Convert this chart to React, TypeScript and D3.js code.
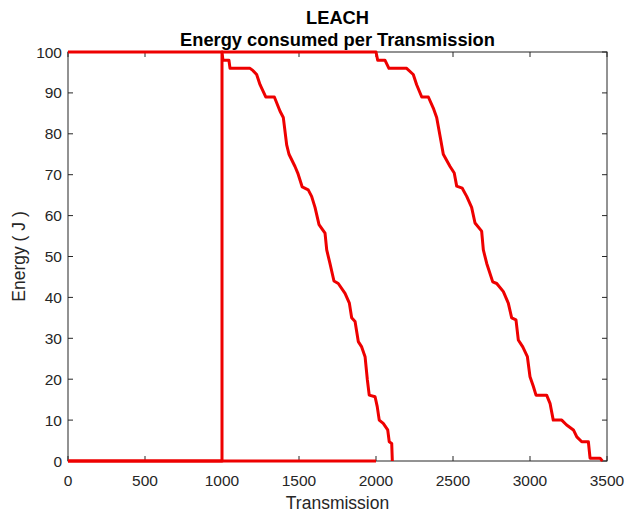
import React, { useRef, useEffect } from 'react';
import * as d3 from 'd3';

// early curve: flat at 0 until 1000, jumps to 100 and drains by ~2100
const earlyX = [0, 1000, 1000, 1006, 1045, 1052, 1182, 1200, 1225, 1247, 1284, 1340, 1377, 1398, 1420, 1435, 1474, 1492, 1521, 1560, 1582, 1604, 1630, 1669, 1680, 1701, 1727, 1755, 1799, 1827, 1842, 1864, 1885, 1907, 1929, 1944, 1956, 1994, 2008, 2021, 2047, 2076, 2086, 2102, 2106];
const earlyE = [0, 0, 100, 98, 98, 96, 96, 95.5, 94.5, 92, 89, 89, 85.5, 84, 77.3, 75, 72, 70.4, 67, 66.3, 64.7, 62, 57.8, 55.7, 51.6, 48.3, 44, 43.4, 41, 38.6, 35, 34.1, 29.2, 27.9, 25.5, 19.8, 16.1, 15.7, 13.3, 10, 9.2, 7.6, 4.7, 4.3, 0];

// late curve: full until 2000, drains by ~3470
const lateX = [0, 2000, 2011, 2058, 2084, 2199, 2242, 2264, 2297, 2340, 2372, 2394, 2422, 2437, 2481, 2508, 2524, 2560, 2589, 2621, 2643, 2686, 2697, 2719, 2758, 2784, 2827, 2859, 2881, 2909, 2924, 2953, 2983, 3000, 3022, 3039, 3108, 3130, 3151, 3206, 3238, 3282, 3304, 3336, 3379, 3390, 3455, 3470];
const lateE = [100, 100, 98, 98, 96, 96, 94.5, 92, 89, 89, 86.3, 84, 78.2, 75, 72, 70.4, 67.2, 66.7, 64.7, 62, 58.2, 56.2, 51.6, 48.3, 43.8, 43.4, 41.4, 38.6, 35, 34.5, 29.6, 27.9, 25.5, 20.6, 18.2, 16.1, 16.1, 14.1, 10, 10, 8.8, 7.6, 5.9, 4.7, 4.7, 0.7, 0.7, 0];

// zero baseline drawn up to 2000
const baseX = [0, 2000];
const baseE = [0, 0];

const xTicks = [0, 500, 1000, 1500, 2000, 2500, 3000, 3500];
const yTicks = [0, 10, 20, 30, 40, 50, 60, 70, 80, 90, 100];

const W = 627, H = 513;
const left = 68, right = 607, top = 52, bottom = 461;
const font = '"Liberation Sans", Arial, sans-serif';

export default function App() {
  const ref = useRef<SVGSVGElement>(null);

  useEffect(() => {
    const svg = d3.select(ref.current);
    svg.selectAll('*').remove();

    const x = d3.scaleLinear().domain([0, 3500]).range([left, right]);
    const y = d3.scaleLinear().domain([0, 100]).range([bottom, top]);
    const axisColor = '#262626';

    svg.append('rect').attr('x', 0).attr('y', 0).attr('width', W).attr('height', H).attr('fill', '#fff');

    // box
    svg.append('rect')
      .attr('x', left).attr('y', top)
      .attr('width', right - left).attr('height', bottom - top)
      .attr('fill', 'none').attr('stroke', axisColor).attr('stroke-width', 1);

    // inward ticks on all four sides
    const tickLen = 5;
    const tg = svg.append('g').attr('stroke', axisColor).attr('stroke-width', 1);
    xTicks.forEach((t) => {
      tg.append('line').attr('x1', x(t)).attr('x2', x(t)).attr('y1', bottom).attr('y2', bottom - tickLen);
      tg.append('line').attr('x1', x(t)).attr('x2', x(t)).attr('y1', top).attr('y2', top + tickLen);
    });
    yTicks.forEach((t) => {
      tg.append('line').attr('x1', left).attr('x2', left + tickLen).attr('y1', y(t)).attr('y2', y(t));
      tg.append('line').attr('x1', right).attr('x2', right - tickLen).attr('y1', y(t)).attr('y2', y(t));
    });

    svg.append('g').selectAll('text').data(xTicks).enter().append('text')
      .attr('x', (d) => x(d)).attr('y', bottom + 25)
      .attr('text-anchor', 'middle')
      .style('font-family', font).style('font-size', '15.5px').attr('fill', axisColor)
      .text((d) => d);

    svg.append('g').selectAll('text').data(yTicks).enter().append('text')
      .attr('x', left - 6).attr('y', (d) => y(d) + 5.5)
      .attr('text-anchor', 'end')
      .style('font-family', font).style('font-size', '15.5px').attr('fill', axisColor)
      .text((d) => d);

    // labels
    svg.append('text')
      .attr('x', (left + right) / 2).attr('y', 509)
      .attr('text-anchor', 'middle')
      .style('font-family', font).style('font-size', '17.5px').attr('fill', axisColor)
      .text('Transmission');

    svg.append('text')
      .attr('transform', `translate(25, ${(top + bottom) / 2}) rotate(-90)`)
      .attr('text-anchor', 'middle')
      .style('font-family', font).style('font-size', '17.5px').attr('fill', axisColor)
      .text('Energy ( J )');

    svg.append('text')
      .attr('x', (left + right) / 2).attr('y', 24)
      .attr('text-anchor', 'middle')
      .style('font-family', font).style('font-size', '18.3px').style('font-weight', 'bold').attr('fill', '#000')
      .text('LEACH');

    svg.append('text')
      .attr('x', (left + right) / 2).attr('y', 46)
      .attr('text-anchor', 'middle')
      .style('font-family', font).style('font-size', '18.3px').style('font-weight', 'bold').attr('fill', '#000')
      .text('Energy consumed per Transmission');

    // lines
    const line = d3.line<[number, number]>().x((d) => x(d[0])).y((d) => y(d[1]));
    const series: [number[], number[]][] = [[baseX, baseE], [earlyX, earlyE], [lateX, lateE]];
    series.forEach(([xs, es]) => {
      const pts = xs.map((v, i) => [v, es[i]] as [number, number]);
      svg.append('path')
        .attr('d', line(pts))
        .attr('fill', 'none')
        .attr('stroke', '#ee0000')
        .attr('stroke-width', 3)
        .attr('stroke-linejoin', 'round');
    });
  }, []);

  return (
    <svg
      ref={ref}
      width={W}
      height={H}
      style={{ position: 'absolute', left: 0, top: 0 }}
    />
  );
}
